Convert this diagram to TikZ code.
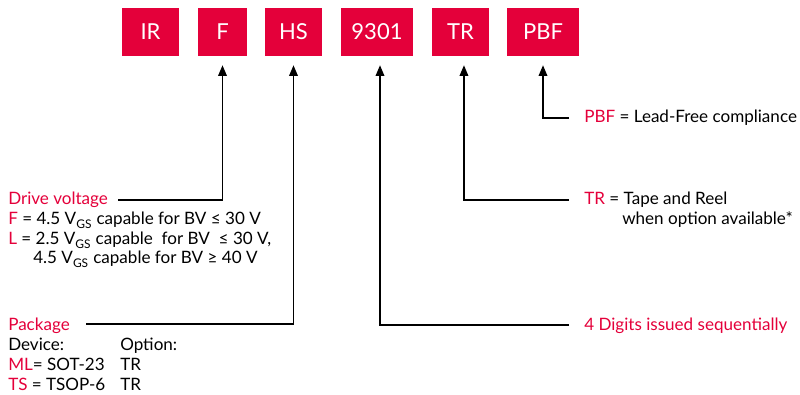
\documentclass[tikz,border=0pt]{standalone}
\usepackage{fontspec}
\setmainfont{Lato}
\usetikzlibrary{arrows.meta,positioning}
\definecolor{ifxred}{HTML}{E4003A}
\newcommand{\hl}[1]{{\color{ifxred}#1}}
\newcommand{\vgs}{V\textsubscript{GS}}
\tikzset{
  codebox/.style={fill=ifxred,text=white,font=\fontsize{16.5}{18}\selectfont,minimum height=36pt,inner sep=0pt},
  lead/.style={line width=1pt,-{Triangle[width=6.5pt,length=8pt]}},
  txt/.style={anchor=base west,inner sep=0pt,font=\fontsize{12.8}{14}\selectfont},
}
\begin{document}
\begin{tikzpicture}[x=0.75pt,y=-0.75pt]
\useasboundingbox (0,0) rectangle (800,395);
% part number boxes
\node[codebox,minimum width=42.75pt] (ir) at (150.5,32) {IR};
\node[codebox,minimum width=36.75pt] (f) at (222.5,32) {F};
\node[codebox,minimum width=42.75pt] (hs) at (293.5,32) {HS};
\node[codebox,minimum width=54pt] (num) at (377,32) {9301};
\node[codebox,minimum width=42.75pt] (tr) at (460.5,32) {TR};
\node[codebox,minimum width=54pt] (pbf) at (543,32) {PBF};
% left side texts
\node[txt] (drv) at (8,205) {\hl{Drive voltage}};
\node[txt] (drvf) at (8,225) {\hl{F} = 4.5 \vgs{} capable for BV ≤ 30 V};
\node[txt] (drvl) at (8,245) {\hl{L} = 2.5 \vgs{} capable\ \ for BV\ \ ≤ 30 V,};
\node[txt] (drvl2) at (33,264) {4.5 \vgs{} capable for BV ≥ 40 V};
\node[txt] (pkg) at (8,330) {\hl{Package}};
\node[txt] (dev) at (8,350) {Device:};
\node[txt] (opt) at (120,350) {Option:};
\node[txt] (ml) at (8,370) {\hl{ML}= SOT-23};
\node[txt] (mlopt) at (120,370) {TR};
\node[txt] (ts) at (8,390) {\hl{TS} = TSOP-6};
\node[txt] (tsopt) at (120,390) {TR};
% right side texts
\node[txt] (pbftxt) at (584,123) {\hl{PBF} = Lead-Free compliance};
\node[txt] (trtxt) at (584,205) {\hl{TR} = Tape and Reel};
\node[txt] (trtxt2) at (622,225) {when option available*};
\node[txt] (numtxt) at (584,330) {\hl{4 Digits issued sequentially}};
% line ends
\coordinate (drvend) at (118,200);
\coordinate (pkgend) at (86,324);
\coordinate (pbfend) at (569,118);
\coordinate (trend) at (569,200);
\coordinate (numend) at (569,325);
% leaders
\draw[lead] (drvend) -| ([yshift=-6.75pt]f.south);
\draw[lead] (pkgend) -| ([yshift=-6.75pt]hs.south);
\draw[lead] (numend) -| ([xshift=2.25pt,yshift=-6.75pt]num.south);
\draw[lead] (trend) -| ([xshift=2.6pt,yshift=-6.75pt]tr.south);
\draw[lead] (pbfend) -| ([yshift=-6.75pt]pbf.south);
\end{tikzpicture}
\end{document}
